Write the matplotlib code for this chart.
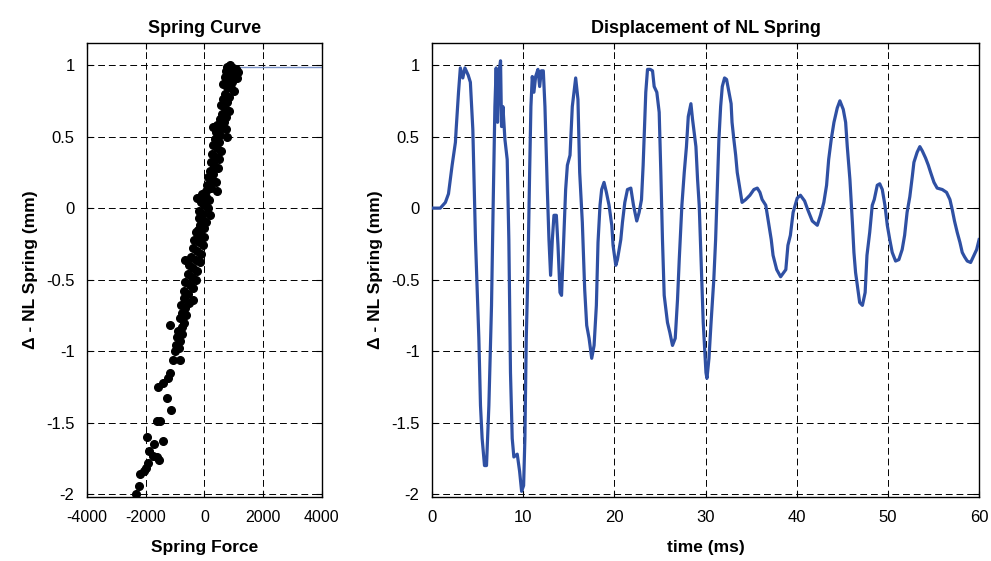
import matplotlib
matplotlib.use('Agg')
import matplotlib.pyplot as plt

plt.rcParams['font.family'] = ['Liberation Sans', 'DejaVu Sans']
plt.rcParams['axes.unicode_minus'] = False

# displacement of the NL spring vs time
time_ms = [0.0, 0.9, 1.46, 1.8, 2.0, 2.2, 2.56, 2.64, 2.9, 3.1, 3.37, 3.6, 3.96, 4.2, 4.47,
           4.58, 4.76, 4.95, 5.13, 5.31, 5.49, 5.75, 5.97, 6.23, 6.52, 6.7, 6.89, 7.03, 7.18,
           7.33, 7.51, 7.62, 7.77, 7.99, 8.24, 8.42, 8.6, 8.79, 8.97, 9.34, 9.6, 9.82, 10.04,
           10.18, 10.33, 10.51, 10.7, 10.84, 10.99, 11.17, 11.36, 11.61, 11.8, 11.98, 12.2,
           12.38, 12.64, 12.82, 13.0, 13.19, 13.37, 13.63, 13.81, 14.03, 14.2, 14.47, 14.65,
           14.84, 15.13, 15.38, 15.75, 16.0, 16.19, 16.48, 16.74, 16.96, 17.22, 17.51, 17.77,
           18.02, 18.2, 18.42, 18.6, 18.86, 19.12, 19.41, 19.71, 19.85, 20.15, 20.33, 20.7,
           20.88, 21.14, 21.43, 21.8, 22.09, 22.45, 22.71, 22.97, 23.15, 23.44, 23.63, 23.92,
           24.18, 24.36, 24.65, 24.91, 25.09, 25.27, 25.46, 25.82, 26.08, 26.37, 26.67, 26.92,
           27.11, 27.4, 27.66, 27.9, 28.1, 28.39, 28.57, 28.94, 29.12, 29.3, 29.49, 29.74,
           30.04, 30.15, 30.37, 30.6, 30.9, 31.1, 31.28, 31.46, 31.65, 31.83, 32.08, 32.3,
           32.56, 32.8, 32.9, 33.1, 33.3, 33.47, 33.77, 34.0, 34.4, 34.86, 35.3, 35.67, 35.96,
           36.2, 36.6, 36.95, 37.2, 37.4, 37.8, 38.23, 38.8, 39.03, 39.3, 39.6, 40.05, 40.4,
           40.86, 41.2, 41.7, 42.25, 42.6, 42.97, 43.27, 43.5, 43.78, 44.08, 44.44, 44.73,
           45.1, 45.36, 45.54, 45.83, 46.1, 46.27, 46.45, 46.64, 46.9, 47.2, 47.5, 47.7, 48.0,
           48.28, 48.5, 48.83, 49.1, 49.38, 49.67, 49.93, 50.2, 50.47, 50.84, 51.2, 51.56,
           51.83, 52.1, 52.4, 52.67, 52.85, 53.2, 53.5, 53.77, 54.13, 54.43, 54.68, 55.05,
           55.4, 55.96, 56.43, 56.8, 57.05, 57.3, 57.6, 57.9, 58.15, 58.4, 58.7, 59.07, 59.44,
           59.73, 60.0]
disp_mm = [0.0, 0.0, 0.04, 0.1, 0.2, 0.3, 0.46, 0.55, 0.81, 0.98, 0.91, 0.98, 0.93, 0.88, 0.55,
           0.25, -0.22, -0.57, -0.91, -1.38, -1.61, -1.80, -1.80, -1.38, -0.68, 0.02, 0.71, 0.98,
           0.6, 0.95, 1.03, 0.57, 0.71, 0.48, 0.34, -0.22, -1.15, -1.61, -1.74, -1.72, -1.84,
           -1.98, -1.94, -1.61, -0.91, -0.45, 0.25, 0.71, 0.92, 0.81, 0.92, 0.97, 0.85, 0.96,
           0.96, 0.71, 0.13, -0.22, -0.47, -0.22, -0.05, -0.05, -0.26, -0.59, -0.61, -0.17,
           0.13, 0.3, 0.37, 0.71, 0.91, 0.76, 0.25, -0.10, -0.57, -0.82, -0.91, -1.05, -0.96,
           -0.68, -0.24, 0.02, 0.13, 0.18, 0.11, 0.02, -0.12, -0.26, -0.40, -0.36, -0.22,
           -0.10, 0.04, 0.13, 0.14, 0.02, -0.09, -0.03, 0.06, 0.3, 0.81, 0.97, 0.97,
           0.96, 0.85, 0.81, 0.67, 0.25, -0.22, -0.61, -0.80, -0.87, -0.96, -0.91, -0.64,
           -0.36, 0.02, 0.25, 0.43, 0.64, 0.73, 0.62, 0.43, 0.2, 0.02, -0.33, -0.80,
           -1.15, -1.19, -1.05, -0.80, -0.50, -0.22, 0.13, 0.48, 0.71, 0.85, 0.91, 0.90,
           0.81, 0.73, 0.6, 0.48, 0.37, 0.25, 0.13, 0.04, 0.06, 0.09, 0.13, 0.14, 0.11,
           0.06, 0.02, -0.12, -0.22, -0.33, -0.43, -0.48, -0.43, -0.26, -0.19, -0.03, 0.07, 0.09,
           0.05, -0.01, -0.09, -0.12, -0.05, 0.04, 0.16, 0.34, 0.48, 0.6, 0.70, 0.75,
           0.69, 0.6, 0.43, 0.2, -0.1, -0.31, -0.45, -0.54, -0.66, -0.68, -0.59, -0.33, -0.17,
           0.02, 0.06, 0.16, 0.17, 0.13, 0.02, -0.12, -0.22, -0.31, -0.37, -0.36, -0.29,
           -0.19, -0.03, 0.08, 0.22, 0.32, 0.39, 0.43, 0.40, 0.35, 0.30, 0.25, 0.18,
           0.14, 0.13, 0.11, 0.06, -0.01, -0.09, -0.17, -0.24, -0.31, -0.34, -0.37, -0.38, -0.33,
           -0.29, -0.22]

# spring curve scatter (force, displacement)
spring_force = [780, 880, 980, 1080, 1150, 720, 850, 1000, 1120,
                700, 820, 950, 640, 760, 900, 1020, 700, 850,
                620, 760, 560, 700, 820, 600, 740, 520, 680,
                300, 440, 560, 720, 400, 520, 780, 350, 480,
                290, 420, 560, 260, 380, 500, 220, 340, 450,
                180, 300, 120, 250, 380, 100, 220, 425, 60,
                -260, -80, 40, 160, -120, 0, 120, -180, -40, 200,
                -200, -60, 60, -150, -20, -230,
                -300, -160, 0, -350, -200, -60, -380, -250, -660,
                -120, -450, -300, -160, -520, -380, -250, -560, -420, -300,
                -650, -500, -380, -700, -560, -390, -680, -540,
                -800, -660, -760, -620, -820, -700, -1170, -780,
                -900, -760, -950, -820, -980, -860, -1000,
                -1070, -830, -1170, -1240, -1410, -1580, -1280, -1140, -1620, -1510,
                -1960, -1720, -1410, -1890, -1750, -1620, -1550, -1920, -1990, -2060,
                -2200, -2230, -2330]
spring_disp = [0.99, 1.0, 0.98, 0.97, 0.95, 0.96, 0.95, 0.93, 0.91,
               0.92, 0.9, 0.88, 0.87, 0.85, 0.84, 0.82, 0.8, 0.78,
               0.76, 0.74, 0.72, 0.7, 0.68, 0.66, 0.64, 0.62, 0.6,
               0.57, 0.58, 0.56, 0.55, 0.53, 0.51, 0.5, 0.48, 0.46,
               0.44, 0.42, 0.4, 0.38, 0.36, 0.34, 0.32, 0.3, 0.28,
               0.26, 0.24, 0.22, 0.2, 0.18, 0.16, 0.14, 0.12, 0.12,
               0.07, 0.1, 0.08, 0.06, 0.04, 0.02, 0.0, -0.02, -0.04, -0.05,
               -0.07, -0.09, -0.1, -0.12, -0.14, -0.15,
               -0.17, -0.19, -0.2, -0.22, -0.24, -0.26, -0.28, -0.3, -0.36,
               -0.32, -0.34, -0.36, -0.38, -0.4, -0.42, -0.44, -0.46, -0.48, -0.5,
               -0.52, -0.54, -0.56, -0.58, -0.6, -0.64, -0.63, -0.66,
               -0.68, -0.7, -0.73, -0.75, -0.77, -0.8, -0.82, -0.83,
               -0.86, -0.88, -0.9, -0.93, -0.96, -0.98, -1.0,
               -1.06, -1.06, -1.15, -1.19, -1.22, -1.25, -1.33, -1.41, -1.49, -1.49,
               -1.6, -1.65, -1.63, -1.7, -1.73, -1.74, -1.76, -1.78, -1.82, -1.84,
               -1.86, -1.94, -2.0]
limit_force = [1200, 4000]
limit_disp = [0.99, 0.99]

y_ticks = [-2, -1.5, -1, -0.5, 0, 0.5, 1]
y_tick_labels = ['-2', '-1.5', '-1', '-0.5', '0', '0.5', '1']

BLUE = '#2f50a3'
YLIM = (-2.02, 1.153)


def style_axes(ax):
    ax.grid(True, color='black', linestyle=(0, (7, 4)), linewidth=0.7)
    ax.set_axisbelow(True)
    ax.tick_params(direction='in', length=4, width=0.8, labelsize=12, pad=9,
                   top=True, right=True, labeltop=False, labelright=False)
    for s in ax.spines.values():
        s.set_linewidth(1.0)


fig = plt.figure(figsize=(9.91, 5.61), dpi=100)
fig.patch.set_facecolor('white')

# left: spring curve
ax1 = fig.add_axes([0.0878, 0.114, 0.237, 0.809])
ax1.plot(spring_force, spring_disp, 'o', color='black', markersize=5.5, zorder=3)
ax1.plot(limit_force, limit_disp, color='#7b93c8', linewidth=1.0, zorder=2)
ax1.set_xlim(-4000, 4000)
ax1.set_ylim(*YLIM)
ax1.set_xticks([-4000, -2000, 0, 2000, 4000])
ax1.set_yticks(y_ticks)
ax1.set_yticklabels(y_tick_labels)
style_axes(ax1)
ax1.tick_params(axis='x', labelsize=11.5)
ax1.set_title('Spring Curve', fontsize=13, fontweight='bold', pad=7)
ax1.set_xlabel('Spring Force', fontsize=12.5, fontweight='bold', labelpad=11)
ax1.set_ylabel('\u0394 - NL Spring (mm)', fontsize=12.5, fontweight='bold', labelpad=6)

# right: displacement vs time
ax2 = fig.add_axes([0.436, 0.114, 0.552, 0.809])
ax2.plot(time_ms, disp_mm, color=BLUE, linewidth=2.3, zorder=3)
ax2.set_xlim(0, 60)
ax2.set_ylim(*YLIM)
ax2.set_xticks([0, 10, 20, 30, 40, 50, 60])
ax2.set_yticks(y_ticks)
ax2.set_yticklabels(y_tick_labels)
style_axes(ax2)
ax2.set_title('Displacement of NL Spring', fontsize=13, fontweight='bold', pad=7)
ax2.set_xlabel('time (ms)', fontsize=12.5, fontweight='bold', labelpad=11)
ax2.set_ylabel('\u0394 - NL Spring (mm)', fontsize=12.5, fontweight='bold', labelpad=6)

plt.savefig('out.png', dpi=100, facecolor='white')
plt.close()
